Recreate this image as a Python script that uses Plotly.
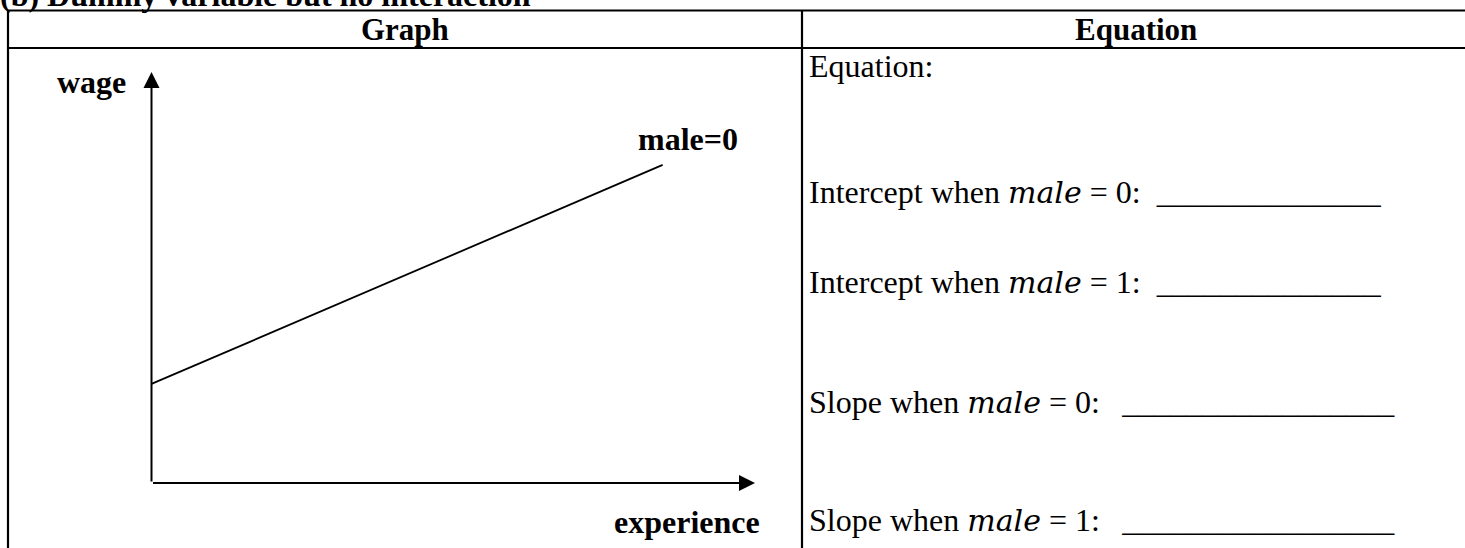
import plotly.graph_objects as go

W, H = 1465, 548

# Sketch data: a single line (male=0) on an unscaled wage/experience plane
experience = [0, 8.47]
wage_male0 = [2.41, 7.74]
axis_max_x = 10
axis_max_y = 10

# Text content
title_text = "(b) Dummy variable but no interaction"
header_left = "Graph"
header_right = "Equation"
MALE = '<span style="font-family:DejaVu Serif;font-size:30px;font-style:italic">male</span>'
EQ = "&nbsp;=&nbsp;"

prompts = [
    "Equation:",
    f"Intercept when {MALE}{EQ}0:\u2002______________",
    f"Intercept when {MALE}{EQ}1:\u2002______________",
    f"Slope when {MALE}{EQ}0:\u2002\u2009_________________",
    f"Slope when {MALE}{EQ}1:\u2002\u2009_________________",
]
prompt_y = [66, 192, 282, 402, 520]

SERIF = "Liberation Serif, Times New Roman, serif"
FS = 31

fig = go.Figure()

# Sketch line on the inner axes
fig.add_trace(go.Scatter(
    x=experience, y=wage_male0, mode="lines",
    line=dict(color="black", width=1.8),
    xaxis="x2", yaxis="y2", hoverinfo="skip", showlegend=False,
))

# Axis arrows on the inner axes
for tip, tail in [((axis_max_x, 0), (0, 0)), ((0, axis_max_y), (0, 0))]:
    fig.add_annotation(
        x=tip[0], y=tip[1], ax=tail[0], ay=tail[1],
        xref="x2", yref="y2", axref="x2", ayref="y2",
        text="", showarrow=True, arrowhead=2, arrowsize=1.6,
        arrowwidth=2, arrowcolor="black", standoff=0, startstandoff=0,
    )

# Table grid, in page pixels on the base axes
lw = 2.2
grid = [
    (7, 10.5, W + 5, 10.5),
    (7, 48, W + 5, 48),
    (8, 10.5, 8, H + 5),
    (802, 10.5, 802, H + 5),
]
for x0, y0, x1, y1 in grid:
    fig.add_shape(type="line", x0=x0, y0=y0, x1=x1, y1=y1,
                  xref="x", yref="y", line=dict(color="black", width=lw))


def label(x, y, text, bold=False, anchor="left", size=FS):
    fig.add_annotation(
        x=x, y=y, xref="x", yref="y", text=f"<b>{text}</b>" if bold else text,
        showarrow=False, xanchor=anchor, yanchor="middle",
        font=dict(family=SERIF, size=size, color="black"),
    )


# Section title sits above the table, running off the top of the page
fig.add_annotation(
    x=-2 / W, y=1 + 5 / H, xref="paper", yref="paper",
    text=f"<b>{title_text}</b>", showarrow=False,
    xanchor="left", yanchor="middle",
    font=dict(family=SERIF, size=32, color="black"),
)
label(405, 29, header_left, bold=True, anchor="center")
label(1136, 29, header_right, bold=True, anchor="center")
label(128, 82, "wage", bold=True, anchor="right", size=32)
label(740, 139, "male=0", bold=True, anchor="right", size=32)
label(762, 522, "experience", bold=True, anchor="right", size=32)
for t, y in zip(prompts, prompt_y):
    label(807, y, t, size=32)

# Inner axes placement: origin at (151.5, 483), x tip at 755, y tip at 72
ox, oy, tx, ty = 151.5, 483, 755, 72
fig.update_layout(
    width=W, height=H,
    margin=dict(l=0, r=0, t=0, b=0),
    paper_bgcolor="white", plot_bgcolor="rgba(0,0,0,0)",
    showlegend=False,
    xaxis=dict(range=[0, W], domain=[0, 1], visible=False, fixedrange=True),
    yaxis=dict(range=[H, 0], domain=[0, 1], visible=False, fixedrange=True),
    xaxis2=dict(range=[0, axis_max_x], domain=[ox / W, tx / W],
                anchor="y2", visible=False, fixedrange=True),
    yaxis2=dict(range=[0, axis_max_y], domain=[(H - oy) / H, (H - ty) / H],
                anchor="x2", visible=False, fixedrange=True),
)

fig.write_html("out.html", config={"displayModeBar": False})
